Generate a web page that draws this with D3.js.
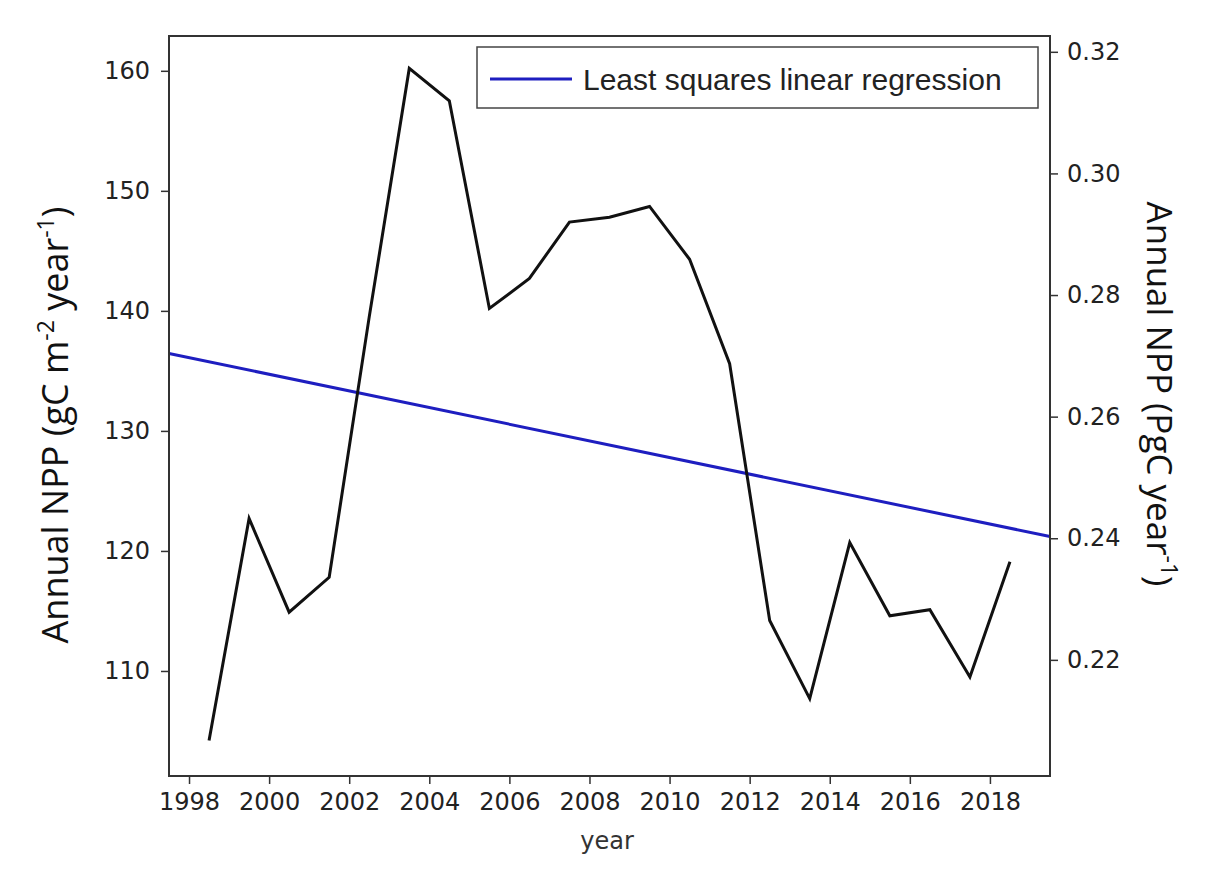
<!DOCTYPE html>
<html>
<head>
	<title>Annual NPP</title>
	<script src="https://d3js.org/d3.v7.min.js"></script>
	<style>
		body { margin: 0; background: white; }
		.tick text { font-family: "DejaVu Sans", sans-serif; font-size: 24px; fill: #222; }
		.tick line { stroke: #333; stroke-width: 1.5; }
		.domain { stroke: none; }
		.label { font-family: "Open Sans", sans-serif; fill: #111; }
	</style>
</head>
<body>
<svg width="1216" height="886"></svg>

<script type="text/javascript">
var years = [1998.5, 1999.5, 2000.5, 2001.5, 2002.5, 2003.5, 2004.5, 2005.5, 2006.5, 2007.5, 2008.5,
	2009.5, 2010.5, 2011.5, 2012.5, 2013.5, 2014.5, 2015.5, 2016.5, 2017.5, 2018.5];
var npp = [104.2, 122.7, 114.9, 117.8, 139.5, 160.2, 157.5, 140.2, 142.7, 147.4, 147.8,
	148.7, 144.3, 135.6, 114.2, 107.7, 120.7, 114.6, 115.1, 109.5, 119.1];

// regression line end points
var regYears = [1997.5, 2019.5];
var regValues = [136.45, 121.2];

var xTicks = [1998, 2000, 2002, 2004, 2006, 2008, 2010, 2012, 2014, 2016, 2018];
var leftTicks = [110, 120, 130, 140, 150, 160];
var rightTicks = [0.22, 0.24, 0.26, 0.28, 0.30, 0.32];

var plotLeft = 169, plotRight = 1050, plotTop = 36, plotBottom = 776;

var svg = d3.select('svg');

var x = d3.scaleLinear().domain([1997.5, 2019.5]).range([plotLeft, plotRight]);
var yL = d3.scaleLinear().domain([101.25, 162.9]).range([plotBottom, plotTop]);
var yR = d3.scaleLinear().domain([0.2009, 0.3226]).range([plotBottom, plotTop]);

svg.append('g')
	.attr('transform', 'translate(0,' + plotBottom + ')')
	.call(d3.axisBottom(x).tickValues(xTicks).tickFormat(d3.format('d')).tickSize(8).tickPadding(9));

svg.append('g')
	.attr('transform', 'translate(' + plotLeft + ',0)')
	.call(d3.axisLeft(yL).tickValues(leftTicks).tickSize(8).tickPadding(11));

svg.append('g')
	.attr('transform', 'translate(' + plotRight + ',0)')
	.call(d3.axisRight(yR).tickValues(rightTicks).tickFormat(d3.format('.2f')).tickSize(8).tickPadding(9));

var line = d3.line()
	.x(function(d) { return x(d[0]); })
	.y(function(d) { return yL(d[1]); });

svg.append('path')
	.datum(d3.zip(regYears, regValues))
	.attr('d', line)
	.attr('fill', 'none')
	.attr('stroke', '#1e1ec0')
	.attr('stroke-width', 3);

svg.append('path')
	.datum(d3.zip(years, npp))
	.attr('d', line)
	.attr('fill', 'none')
	.attr('stroke', '#111')
	.attr('stroke-width', 3)
	.attr('stroke-linejoin', 'miter');

// frame
svg.append('rect')
	.attr('x', plotLeft).attr('y', plotTop)
	.attr('width', plotRight - plotLeft).attr('height', plotBottom - plotTop)
	.attr('fill', 'none')
	.attr('stroke', '#333')
	.attr('stroke-width', 2);

// legend
var legend = svg.append('g');
legend.append('rect')
	.attr('x', 477).attr('y', 47)
	.attr('width', 561).attr('height', 61)
	.attr('fill', 'white')
	.attr('stroke', '#444')
	.attr('stroke-width', 1.5);
legend.append('line')
	.attr('x1', 490).attr('x2', 572)
	.attr('y1', 79).attr('y2', 79)
	.attr('stroke', '#1e1ec0')
	.attr('stroke-width', 3);
legend.append('text')
	.attr('x', 583).attr('y', 90)
	.style('font-family', '"Liberation Sans", Arial, sans-serif')
	.style('font-size', '30px')
	.attr('fill', '#222')
	.text('Least squares linear regression');

// axis labels
svg.append('text')
	.attr('x', 607).attr('y', 849)
	.attr('text-anchor', 'middle')
	.style('font-family', '"DejaVu Sans", sans-serif')
	.style('font-size', '24px')
	.attr('fill', '#333')
	.text('year');

var yl = svg.append('text')
	.attr('class', 'label')
	.attr('transform', 'translate(68,425) rotate(-90)')
	.attr('text-anchor', 'middle')
	.style('font-size', '36px');
yl.append('tspan').text('Annual NPP (gC m');
yl.append('tspan').attr('dy', -14).style('font-size', '23px').text('-2');
yl.append('tspan').attr('dy', 14).text(' year');
yl.append('tspan').attr('dy', -14).style('font-size', '23px').text('-1');
yl.append('tspan').attr('dy', 14).text(')');

var yr = svg.append('text')
	.attr('class', 'label')
	.attr('transform', 'translate(1147,394) rotate(90)')
	.attr('text-anchor', 'middle')
	.style('font-size', '35px');
yr.append('tspan').text('Annual NPP  (PgC year');
yr.append('tspan').attr('dy', -14).style('font-size', '23px').text('-1');
yr.append('tspan').attr('dy', 14).text(')');
</script>
</body>
</html>
